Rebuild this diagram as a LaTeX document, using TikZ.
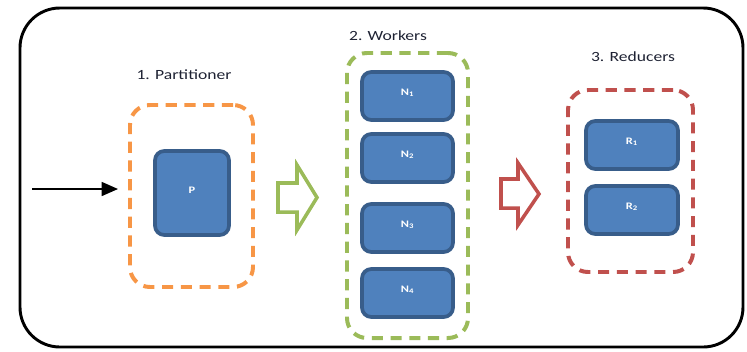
\documentclass[tikz,border=0pt]{standalone}
\usepackage{fontspec}
\setmainfont{Carlito}
\usetikzlibrary{fit,arrows.meta}

\definecolor{partorange}{HTML}{F79646}
\definecolor{workgreen}{HTML}{9BBB59}
\definecolor{redred}{HTML}{C0504D}
\definecolor{blkfill}{HTML}{4F81BD}
\definecolor{blkedge}{HTML}{385D8A}
\definecolor{lbltext}{HTML}{1E2233}

\newcommand{\wide}[1]{\scalebox{1.25}[1]{#1}}

\begin{document}
\begin{tikzpicture}[x=0.03cm,y=-0.03cm,
  frame/.style={draw=black,line width=2.5pt,rounded corners=34pt},
  grp/.style={draw,line width=3.4pt,dash pattern=on 9.5pt off 6.5pt,
    rounded corners=17pt,inner sep=0pt},
  blk/.style={draw=blkedge,fill=blkfill,line width=3.2pt,
    rounded corners=8pt,inner sep=0pt,text=white,
    font=\fontsize{8.5}{9}\selectfont\bfseries},
  lbl/.style={text=lbltext,font=\fontsize{12}{14}\selectfont,inner sep=0pt},
  blockarrow/.style={line width=3pt,fill=white,line join=miter}
]
\useasboundingbox (0,0) rectangle (747,351);

% outer frame
\draw[frame] (20,8) rectangle (743,347);

% group titles
\node[lbl] (partlbl) at (184,75) {\wide{1. Partitioner}};
\node[lbl] (worklbl) at (388,36) {\wide{2. Workers}};
\node[lbl] (redlbl)  at (633,57) {\wide{3. Reducers}};

% dashed group outlines
\node[grp,draw=partorange,fit={(130,105)(253,287)}] (part) {};
\node[grp,draw=workgreen,fit={(347,53)(468,338)}] (work) {};
\node[grp,draw=redred,fit={(568,90)(693,272)}] (red) {};

% partitioner
\node[blk,fit={(155,151)(229,235)}] (p) {\wide{P}};

% workers
\node[blk,fit={(362,72)(453,120)}]  (n1) {\wide{N\textsubscript{1}}};
\node[blk,fit={(362,134)(453,182)}] (n2) {\wide{N\textsubscript{2}}};
\node[blk,fit={(362,204)(453,252)}] (n3) {\wide{N\textsubscript{3}}};
\node[blk,fit={(362,269)(453,317)}] (n4) {\wide{N\textsubscript{4}}};

% reducers
\node[blk,fit={(586,121)(678,169)}] (r1) {\wide{R\textsubscript{1}}};
\node[blk,fit={(586,186)(678,234)}] (r2) {\wide{R\textsubscript{2}}};

% incoming data
\coordinate (src) at (32,189);
\coordinate (srcend) at (118,189);
\draw[line width=1.3pt,-{Triangle[length=14pt,width=12pt]}] (src) -- (srcend);

% block arrows between stages
\draw[blockarrow,draw=workgreen]
  (278,183) -- (297,183) -- (297,165) -- (317,197.5) -- (297,230)
  -- (297,212) -- (278,212) -- cycle;
\draw[blockarrow,draw=redred]
  (501,179) -- (518,179) -- (518,163) -- (539,194) -- (518,225)
  -- (518,208) -- (501,208) -- cycle;
\end{tikzpicture}
\end{document}
